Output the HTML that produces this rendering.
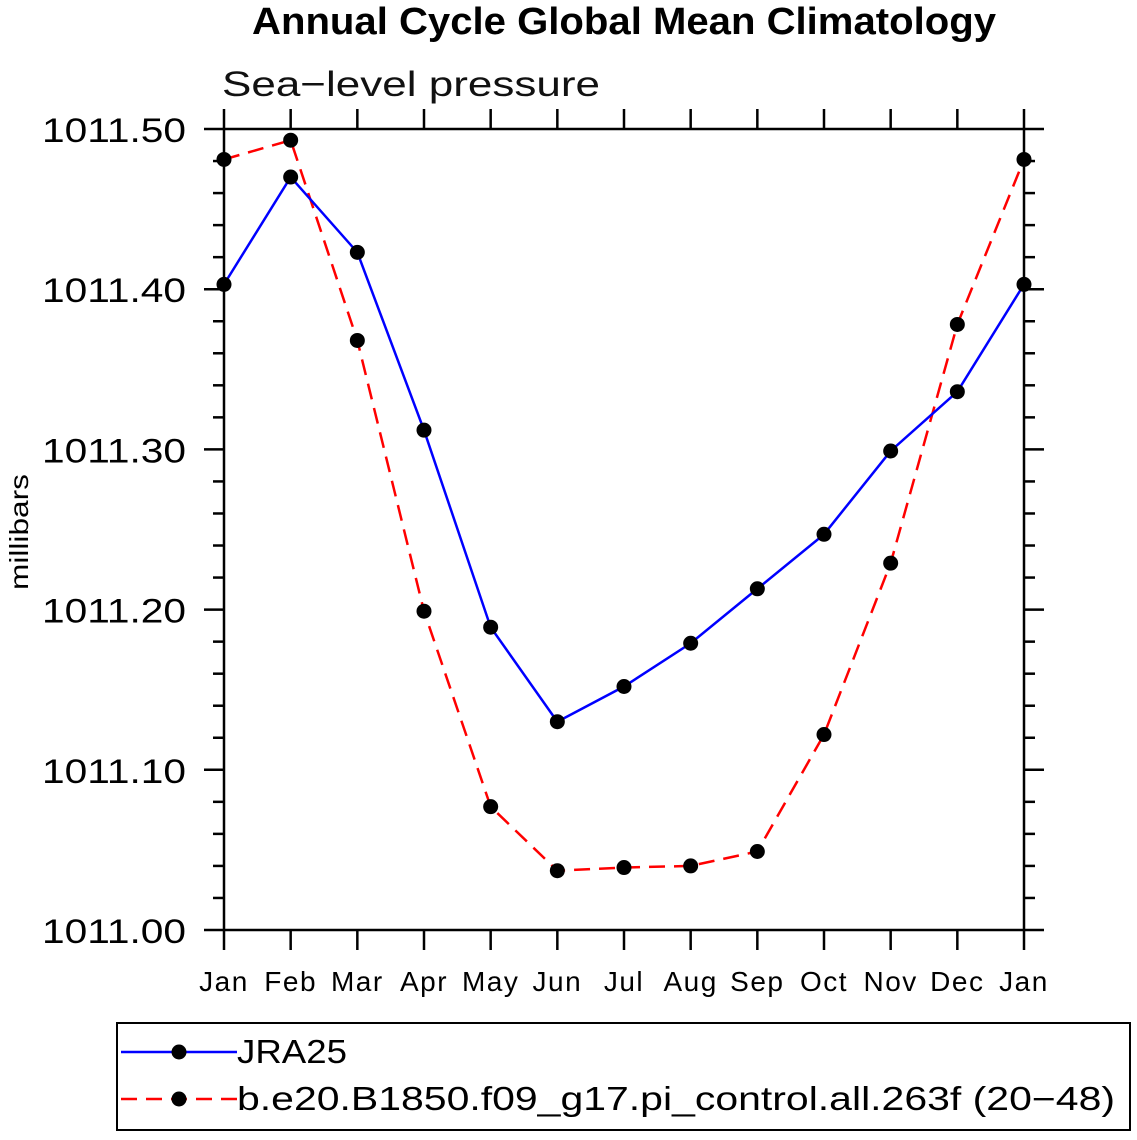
<!DOCTYPE html>
<html><head><meta charset="utf-8"><style>
html,body{margin:0;padding:0;background:#fff;}
svg text{font-family:"Liberation Sans",sans-serif;}
</style></head><body>
<svg id="chart" width="1137" height="1135" viewBox="0 0 1137 1135" xmlns="http://www.w3.org/2000/svg">
<text x="252" y="34" textLength="744" lengthAdjust="spacingAndGlyphs" font-size="38" font-weight="bold">Annual Cycle Global Mean Climatology</text>
<text x="222" y="96" textLength="378" lengthAdjust="spacingAndGlyphs" font-size="35" fill="#111">Sea−level pressure</text>
<text transform="translate(28,532) rotate(-90)" text-anchor="middle" textLength="116" lengthAdjust="spacingAndGlyphs" font-size="26">millibars</text>
<g id="axes"></g>
<g id="series"></g>
<rect x="117" y="1023" width="1013" height="107" fill="none" stroke="#000" stroke-width="2"/>
<g>
<line x1="121" y1="1052" x2="237" y2="1052" stroke="#0000ff" stroke-width="2.5"/>
<circle cx="179" cy="1052" r="7.5" fill="#000"/>
<text x="237" y="1063" textLength="110" lengthAdjust="spacingAndGlyphs" font-size="33">JRA25</text>
</g>
<g>
<line x1="121" y1="1099" x2="237" y2="1099" stroke="#ff0000" stroke-width="2.5" stroke-dasharray="16,9"/>
<circle cx="179" cy="1099" r="7.5" fill="#000"/>
<text x="237" y="1110" textLength="878" lengthAdjust="spacingAndGlyphs" font-size="33">b.e20.B1850.f09_g17.pi_control.all.263f (20−48)</text>
</g>
</svg>
<script>
const months = ["Jan","Feb","Mar","Apr","May","Jun","Jul","Aug","Sep","Oct","Nov","Dec","Jan"];
const yTicks = [1011.0,1011.1,1011.2,1011.3,1011.4,1011.5];
const yTickLabels = ["1011.00","1011.10","1011.20","1011.30","1011.40","1011.50"];
const jra25 = [1011.403,1011.470,1011.423,1011.312,1011.189,1011.130,1011.152,1011.179,1011.213,1011.247,1011.299,1011.336,1011.403];
const model = [1011.481,1011.493,1011.368,1011.199,1011.077,1011.037,1011.039,1011.040,1011.049,1011.122,1011.229,1011.378,1011.481];

const NS="http://www.w3.org/2000/svg";
const X0=224,X1=1024,Y0=930,Y1=129,YMIN=1011.0,YMAX=1011.5;
const xs=i=>X0+(X1-X0)*i/(months.length-1);
const ys=v=>Y0-(v-YMIN)/(YMAX-YMIN)*(Y0-Y1);
function mk(tag,attrs,parent){const e=document.createElementNS(NS,tag);for(const k in attrs)e.setAttribute(k,attrs[k]);parent.appendChild(e);return e;}
const ax=document.getElementById('axes');
const frame=mk('rect',{x:X0,y:Y1,width:X1-X0,height:Y0-Y1,fill:'none',stroke:'#000','stroke-width':2.5},ax);


months.forEach((m,i)=>{
  const x=xs(i);
  mk('line',{x1:x,y1:Y0,x2:x,y2:Y0+20,stroke:'#000','stroke-width':2.5},ax);
  mk('line',{x1:x,y1:Y1,x2:x,y2:Y1-20,stroke:'#000','stroke-width':2.5},ax);
  const t=mk('text',{x:x,y:991,'text-anchor':'middle','font-size':28,'letter-spacing':1.5},ax);
  t.textContent=m;
  
  
});
for(let k=0;k<=25;k++){
  const v=YMIN+k*0.02,y=ys(v),major=k%5===0;
  const L=major?20:11;
  mk('line',{x1:X0-L,y1:y,x2:X0,y2:y,stroke:'#000','stroke-width':2.5},ax);
  mk('line',{x1:X1,y1:y,x2:X1+L,y2:y,stroke:'#000','stroke-width':2.5},ax);
}
yTicks.forEach((v,i)=>{
  const t=mk('text',{x:42,y:ys(v)+13,textLength:144,lengthAdjust:'spacingAndGlyphs','font-size':34},ax);
  t.textContent=yTickLabels[i];
  
  
});
const sg=document.getElementById('series');
function drawSeries(vals,color,dash,name){
  const pts=vals.map((v,i)=>xs(i)+','+ys(v)).join(' ');
  const pl=mk('polyline',{points:pts,fill:'none',stroke:color,'stroke-width':2.5,'stroke-dasharray':dash},sg);
  
  
  vals.forEach((v,i)=>{
    const c=mk('circle',{cx:xs(i),cy:ys(v),r:7.5,fill:'#000'},sg);
    
    
  });
}
drawSeries(model,'#ff0000','16,9','model');
drawSeries(jra25,'#0000ff','none','jra25');
</script>
</body></html>
